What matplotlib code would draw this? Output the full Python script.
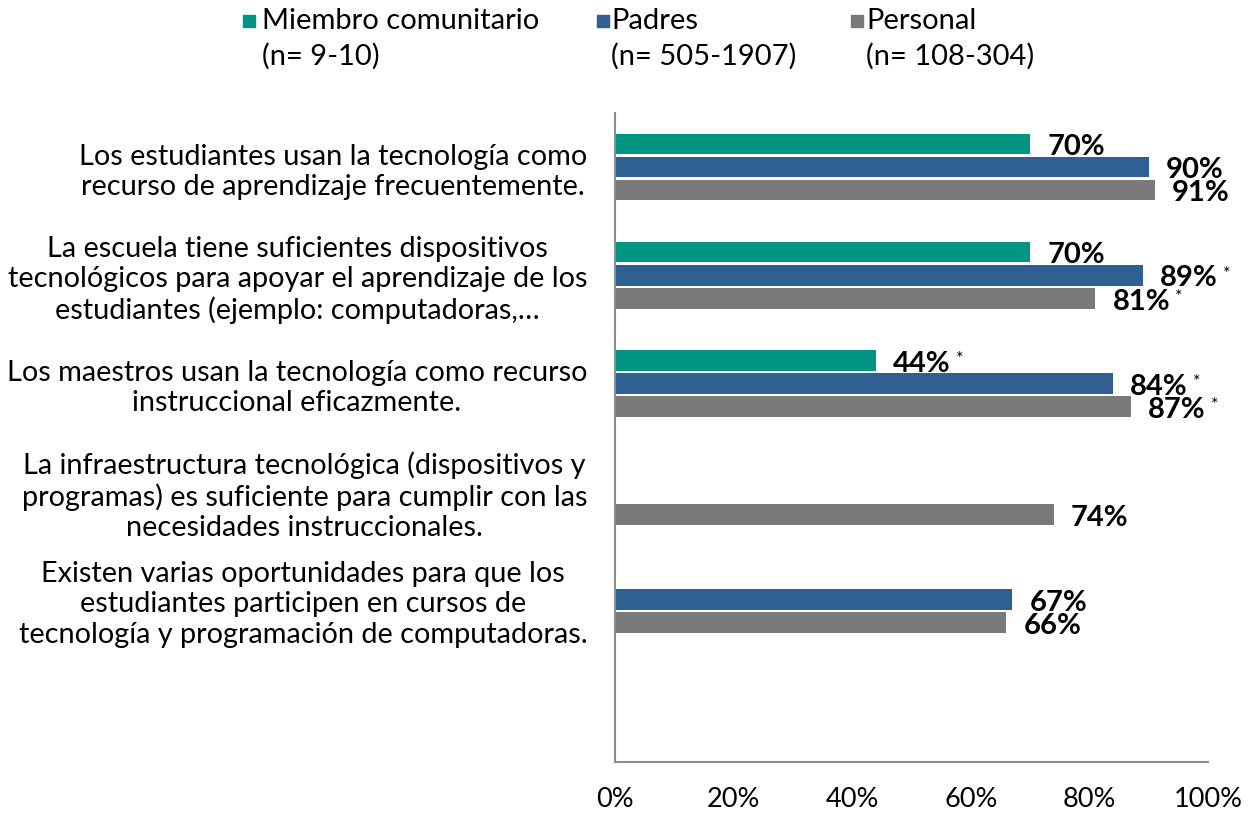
import matplotlib
matplotlib.use("Agg")
import matplotlib.pyplot as plt
import numpy as np
from matplotlib.patches import Rectangle

plt.rcParams['font.family'] = ['Lato', 'DejaVu Sans']

categories = [
    "Los estudiantes usan la tecnología como\nrecurso de aprendizaje frecuentemente.",
    "La escuela tiene suficientes dispositivos\ntecnológicos para apoyar el aprendizaje de los\nestudiantes (ejemplo: computadoras,…",
    "Los maestros usan la tecnología como recurso\ninstruccional eficazmente.",
    "La infraestructura tecnológica (dispositivos y\nprogramas) es suficiente para cumplir con las\nnecesidades instruccionales.",
    "Existen varias oportunidades para que los\nestudiantes participen en cursos de\ntecnología y programación de computadoras.",
    "",
]
series_names = ["Miembro comunitario", "Padres", "Personal"]
series_n = ["(n= 9-10)", "(n= 505-1907)", "(n= 108-304)"]
miembro = [70, 70, 44, None, None, None]
padres = [90, 89, 84, None, 67, None]
personal = [91, 81, 87, 74, 66, None]
miembro_sig = [False, False, True, False, False, False]
padres_sig = [False, True, True, False, False, False]
personal_sig = [False, True, True, False, False, False]
xticks = [0, 20, 40, 60, 80, 100]

colors = ["#009483", "#2F5F93", "#7A7A7C"]

fig = plt.figure(figsize=(12.59, 8.14), dpi=100)
ax = fig.add_axes([0.4885, 0.0639, 0.471, 0.7973])

n = len(categories)
y = np.arange(n)
step = 0.213
h = 0.19
data = [miembro, padres, personal]
sigs = [miembro_sig, padres_sig, personal_sig]
for s, (vals, sg, col) in enumerate(zip(data, sigs, colors)):
    off = (s - 1) * step
    for i, v in enumerate(vals):
        if v is None:
            continue
        ax.barh(y[i] + off, v, height=h, color=col, edgecolor='none')
        ax.text(v + 2.9, y[i] + off + 0.03, f"{v}%", ha='left', va='center',
                fontsize=21, fontweight='bold', color='black')
        if sg[i]:
            ax.annotate("*", xy=(v + 2.9, y[i] + off), xytext=(45, 1),
                        textcoords='offset points', fontsize=13, ha='left',
                        va='center', color='black')

ax.set_ylim(n - 0.5, -0.5)
ax.set_xlim(0, 100)
ax.set_yticks(y)
ax.set_yticklabels(categories, fontsize=20.8)
for lab in ax.get_yticklabels():
    lab.set_multialignment('center')
ax.set_xticks(xticks)
ax.set_xticklabels([f"{t}%" for t in xticks], fontsize=19.5)
ax.tick_params(axis='y', length=0, pad=20)
ax.tick_params(axis='x', length=0, pad=18)
for sp in ['top', 'right']:
    ax.spines[sp].set_visible(False)
for sp in ['left', 'bottom']:
    ax.spines[sp].set_color('#8C8C8C')
    ax.spines[sp].set_linewidth(1.5)

# legend
W, H = 1259, 814
sq_x = [243, 597, 851]
tx_x = [262, 611, 866]
for name, nn, col, sx, tx in zip(series_names, series_n, colors, sq_x, tx_x):
    fig.patches.append(Rectangle((sx / W, 1 - 27 / H), 12 / W, 12 / H,
                                 transform=fig.transFigure, color=col))
    fig.text(tx / W, 1 - 21 / H, name, fontsize=21, va='center', ha='left')
    fig.text(tx / W, 1 - 56 / H, nn, fontsize=21, va='center', ha='left')

fig.savefig("out.png", dpi=100)
